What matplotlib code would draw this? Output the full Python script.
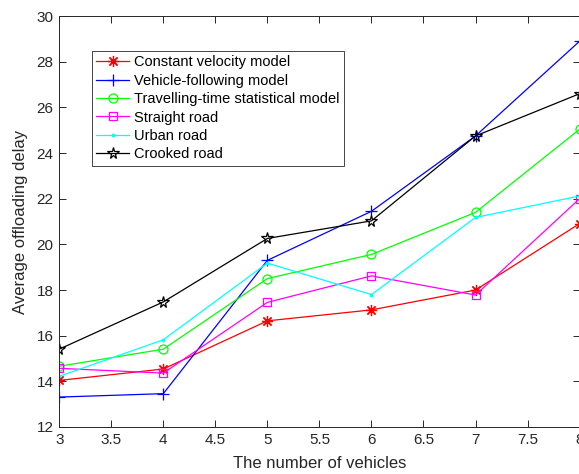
import matplotlib
matplotlib.use("Agg")
import matplotlib.pyplot as plt

plt.rcParams['font.family'] = ['Liberation Sans', 'DejaVu Sans']

# number of vehicles
x = [3, 4, 5, 6, 7, 8]

# average offloading delay
constant_velocity = [14.04, 14.54, 16.65, 17.13, 18.0, 20.91]
vehicle_following = [13.31, 13.46, 19.3, 21.45, 24.75, 28.9]
travelling_time = [14.66, 15.41, 18.5, 19.56, 21.4, 25.04]
straight_road = [14.57, 14.36, 17.46, 18.62, 17.78, 22.0]
urban_road = [14.22, 15.82, 19.18, 17.8, 21.18, 22.12]
crooked_road = [15.41, 17.48, 20.26, 21.03, 24.75, 26.6]

labels = ["Constant velocity model", "Vehicle-following model",
          "Travelling-time statistical model", "Straight road",
          "Urban road", "Crooked road"]

fig = plt.figure(figsize=(5.79, 4.74), dpi=100)
ax = fig.add_axes([0.1024, 0.0992, 1.001 - 0.1024, 0.966 - 0.0992])

lw = 0.9
ax.plot(x, constant_velocity, color='#ff0000', lw=lw, marker=(8, 2, 0), ms=8, mew=0.9, label=labels[0])
ax.plot(x, vehicle_following, color='#0000ff', lw=lw, marker='+', ms=9, mew=0.9, label=labels[1])
ax.plot(x, travelling_time, color='#00ff00', lw=lw, marker='o', ms=6.5, mfc='none', mew=0.9, label=labels[2])
ax.plot(x, straight_road, color='#ff00ff', lw=lw, marker='s', ms=6, mfc='none', mew=0.9, label=labels[3])
ax.plot(x, urban_road, color='#00ffff', lw=lw, marker='.', ms=3.5, label=labels[4])
ax.plot(x, crooked_road, color='k', lw=lw, marker='*', ms=8.5, mfc='none', mew=0.9, label=labels[5])

ax.set_xlim(3, 8)
ax.set_ylim(12, 30)
ax.set_xticks([3, 3.5, 4, 4.5, 5, 5.5, 6, 6.5, 7, 7.5, 8])
ax.set_xticklabels(['3', '3.5', '4', '4.5', '5', '5.5', '6', '6.5', '7', '7.5', '8'])
ax.set_yticks(range(12, 31, 2))

ax.tick_params(direction='in', top=True, right=True, labelsize=11, length=5,
               width=0.7, colors='#262626', pad=4)
for s in ax.spines.values():
    s.set_linewidth(0.7)
    s.set_color('#262626')

ax.set_xlabel("The number of vehicles", fontsize=12, color='#262626', labelpad=7)
ax.set_ylabel("Average offloading delay", fontsize=12, color='#262626', labelpad=6)

leg = ax.legend(loc='upper left', bbox_to_anchor=(0.062, 0.915), borderaxespad=0,
                fontsize=10.5, fancybox=False, framealpha=1, edgecolor='#262626',
                handlelength=2.3, handletextpad=0.3, labelspacing=0.3,
                borderpad=0.3)
leg.get_frame().set_linewidth(0.6)

fig.savefig("out.png", dpi=100)
